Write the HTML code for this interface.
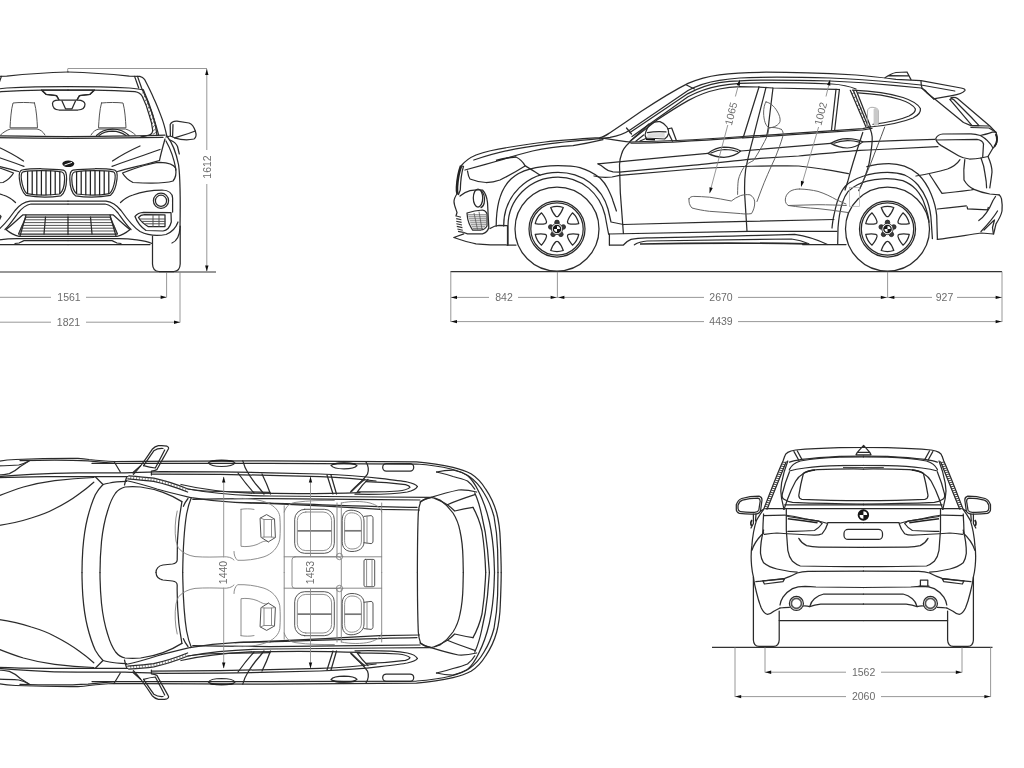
<!DOCTYPE html>
<html><head><meta charset="utf-8">
<style>
html,body{margin:0;padding:0;background:#fff;}
body{width:1024px;height:768px;overflow:hidden;font-family:"Liberation Sans",sans-serif;}
svg{display:block;position:absolute;left:0;top:0;}
.b{fill:none;stroke:#2b2b2b;stroke-width:1.25;stroke-linecap:round;stroke-linejoin:round;}
.m{fill:none;stroke:#4a4a4a;stroke-width:0.95;stroke-linecap:round;stroke-linejoin:round;}
.l{fill:none;stroke:#808080;stroke-width:0.9;stroke-linecap:round;stroke-linejoin:round;}
.s{fill:none;stroke:#5c5c5c;stroke-width:0.95;stroke-linecap:round;stroke-linejoin:round;}
.d{fill:none;stroke:#8c8c8c;stroke-width:0.9;}
.g{fill:none;stroke:#333;stroke-width:1.1;}
.a{fill:#111;stroke:none;}
text{font-family:"Liberation Sans",sans-serif;font-size:10.5px;fill:#6c6c6c;text-anchor:middle;}
</style></head><body>
<svg width="1024" height="768" viewBox="0 0 1024 768">
<rect width="1024" height="768" fill="#fff"/>
<defs>
<filter id="soft" x="0" y="0" width="1024" height="768" filterUnits="userSpaceOnUse"><feGaussianBlur stdDeviation="0.55"/></filter>
<path id="ah" d="M0,0 L-6,-1.7 L-6,1.7 Z"/>
</defs>

<g filter="url(#soft)">
<!-- ================= DIMENSIONS ================= -->
<g id="dims">
<!-- front view -->
<path class="g" d="M0,272 H216"/>
<path class="d" d="M68,68.5 H207 M206.8,69 V271"/>
<path class="d" d="M67.7,68.5 V72"/>
<use href="#ah" class="a" transform="translate(206.8,69) rotate(-90)"/>
<use href="#ah" class="a" transform="translate(206.8,271.5) rotate(90)"/>
<rect x="200" y="150" width="14" height="34" fill="#fff"/>
<text transform="translate(210.5,167) rotate(-90)">1612</text>
<path class="d" d="M166.6,272 V297.5 M0,297.3 H51 M86,297.3 H166"/>
<use href="#ah" class="a" transform="translate(166.6,297.3)"/>
<text x="69" y="301">1561</text>
<path class="d" d="M180,272 V322.5 M0,322.2 H51 M86,322.2 H180"/>
<use href="#ah" class="a" transform="translate(180,322.2)"/>
<text x="68.5" y="326">1821</text>

<!-- side view -->
<path class="g" d="M450.5,271.6 H1002"/>
<path class="d" d="M450.8,271.6 V322 M557.4,271.6 V297.5 M887.6,271.6 V297.5 M1002,271.6 V322"/>
<path class="d" d="M451,297.4 H489 M518,297.4 H557.4 M557.4,297.4 H704 M738,297.4 H887.6 M887.6,297.4 H932 M957,297.4 H1002"/>
<use href="#ah" class="a" transform="translate(451,297.4) rotate(180)"/>
<use href="#ah" class="a" transform="translate(556.6,297.4)"/>
<use href="#ah" class="a" transform="translate(558.4,297.4) rotate(180)"/>
<use href="#ah" class="a" transform="translate(886.8,297.4)"/>
<use href="#ah" class="a" transform="translate(888.4,297.4) rotate(180)"/>
<use href="#ah" class="a" transform="translate(1001.6,297.4)"/>
<text x="504" y="301">842</text>
<text x="721" y="301">2670</text>
<text x="944.5" y="301">927</text>
<path class="d" d="M451,321.6 H704 M738,321.6 H1002"/>
<use href="#ah" class="a" transform="translate(451,321.6) rotate(180)"/>
<use href="#ah" class="a" transform="translate(1001.6,321.6)"/>
<text x="721" y="325.3">4439</text>

<!-- rear view -->
<path class="g" d="M712,647.4 H992.5"/>
<path class="d" d="M765,647.4 V672.5 M962,647.4 V672.5 M735,647.4 V697 M990.6,647.4 V697"/>
<path class="d" d="M765,672.2 H846 M881,672.2 H962 M735,696.6 H846 M881,696.6 H990.6"/>
<use href="#ah" class="a" transform="translate(765.2,672.2) rotate(180)"/>
<use href="#ah" class="a" transform="translate(961.8,672.2)"/>
<use href="#ah" class="a" transform="translate(735.2,696.6) rotate(180)"/>
<use href="#ah" class="a" transform="translate(990.4,696.6)"/>
<text x="863.6" y="676">1562</text>
<text x="863.6" y="700.4">2060</text>
</g>

<!-- ================= FRONT VIEW ================= -->
<g id="front">
<g id="fhalf">
<!-- roof / A pillar / body side -->
<path class="b" d="M68,72 C95,72.6 115,74.6 129.3,76.2 L139.8,76.4 C142,77 143.5,78 144.5,79.3 C148,86 151,92 153.9,98.7 C157,105 159.5,112 162,118.6 C164,124 165.5,130 166.8,136"/>
<path class="b" d="M68,86.6 C90,86.6 110,87 129.3,88 C135,88.6 140,89.2 143.4,90"/>
<path class="b" d="M134.6,76.4 L138.7,88 M137.5,76.4 L141.6,88 C145,95 148,102 150.4,109 C154,118 156.5,127 158.6,135"/>
<path class="b" d="M143.4,90 C147,98 150,106 152.5,114 C155,122 156.4,129 157,135.5"/>
<path d="M144,91.5 L142.2,93.5 M145.4,95 L143.8,97.5 M146.8,98.6 L145.2,101.2 M148.2,102.2 L146.5,105 M149.6,105.8 L147.8,108.8 M151,109.4 L149,112.6 M152.3,113 L150.2,116.4 M153.4,116.8 L151.2,120.2 M154.4,120.6 L152,124 M155.3,124.4 L152.6,127.8 M156,128.2 L153,131.4 M156.6,132 L152.8,134.4" fill="none" stroke="#444" stroke-width="0.8"/>
<path class="b" d="M68,90 H41.5 L46,94.3 L56.5,95.6 L58.8,99.5"/>
<path class="b" d="M68,90 H94.5 L90,94.3 L79.5,95.6 L77.2,99.5"/>
<path class="b" d="M94.5,90 C108,90 122,90.6 135,91.6 C139,92.3 141,94 142.2,96.3 C145,102 147.5,108.5 149.2,115 C151,120 152.2,125.5 152.7,130.3 C152.6,133 151.5,134.5 149.2,135 C146,136 143.5,136.5 141,136.8"/>
<!-- hood rear edge -->
<path class="b" d="M68,136.6 C100,136.4 140,136 165,135.2"/>
<path class="b" d="M68,138.3 C100,138.1 140,137.8 163,137.4"/>
<!-- body side -->
<path class="b" d="M166.8,136 C171,141 176,152 178.6,165 C180.3,178 180.5,200 180,228 C179.5,236 177,241 172,243"/>
<path class="b" d="M165,139 C163,146 161,153 159.5,160.5"/>
<path class="b" d="M166,141 C170,148 174,158 176,170"/>
<!-- hood creases -->
<path class="b" d="M140,146 C130,150.5 120,156 112.5,161"/>
<path class="b" d="M160,149.5 C145,155 125,161.5 112,166.3"/>
<path class="b" d="M159.5,160.5 C148,164 130,168 117.5,171.5"/>
<!-- headlight -->
<path class="b" d="M122.5,173 C135,168 150,163 160,162.3 C168,162.5 174,165 175.5,168 C176.5,173 175.5,178 173,181 C165,183.5 150,183.5 133,182.5 C128,180 124.5,176.5 122.5,173 Z"/>
<!-- bumper upper -->
<path class="b" d="M120.5,202.5 C124,199 128,196.5 133,195 C142,191.5 152,190 162,190 C169,190.3 172.3,193 172.6,198 L172.6,212"/>
<circle class="b" cx="161" cy="200.8" r="7.6"/>
<circle class="b" cx="161" cy="200.8" r="5.6"/>
<!-- side intake -->
<path class="b" d="M135,216.5 C137,214 140,212.6 143.5,212.4 L171,212.6 L171.3,222 C170,227 167,230.5 163,231 L146,230.5 C141,227 137,222 135,216.5 Z"/>
<path class="b" d="M138.5,217.5 C140,215.6 142,214.8 144.5,214.7 L165,214.8 L165,226.5 L148,226.5 C144,224 140.5,221 138.5,217.5 Z"/>
<path class="m" d="M140,219 H165 M142.5,221.4 H165 M145.5,223.8 H165 M153,214.8 V226.5 M159,214.8 V226.5"/>
<!-- lower bumper -->
<path class="b" d="M68,201.2 H106 C112,202 117,205.5 121,210.5 C127,219 133,227 140,231.5 C148,235.5 158,236 166,234.5 C172,232 176,228 178,222"/>
<path class="b" d="M68,204 H105 C110,205 114,208 118,213 C123,220 127,226 131,229.5"/>
<!-- lower grille -->
<path class="b" d="M68,214.8 H113 C118,219 125,226 130,229.5 C126,233 121,235.5 117,236.3 H68"/>
<path class="b" d="M68,217 H110 L117.5,234 H68"/>
<path class="m" d="M68,219.8 H111.5 M68,222.6 H112.7 M68,225.4 H114 M68,228.2 H115.2 M68,231 H116.4"/>
<path class="b" d="M90.5,217 L92,234 M110,215 L116,236"/>
<path class="b" d="M68,238.6 H118 C130,238.5 145,240.5 152,243.5"/>
<path class="b" d="M68,240.6 H112 L117,243 L121,243.5"/>
<path class="b" d="M68,244.6 H150"/>
<!-- wheel -->
<path class="b" d="M152.5,236 V264 C152.7,269 155,271.4 159,271.5 H174 C178,271.3 180,269 180.2,264 V226"/>
<!-- mirror -->
<path class="b" d="M170.2,124.5 C171.5,122 174,121 177,121.2 L189,123 C192,124 194,127 195.3,131 C196.5,134.5 196.3,137.5 194,139 C188,140.3 180,139.6 174.5,137.8 L170.4,136 Z"/>
<path class="b" d="M173,124.5 L172.6,136.5 M174.5,137.8 L188.5,133.5 L195.3,131"/>
<path class="b" d="M166,137 L170.4,136 M170,140 C174,141.5 176,143 177.5,146.5 L179.3,154"/>
<!-- seat / headrest -->
<path class="m" d="M101.5,103 C108,102.3 117,102.3 123,103 C125,110 125.5,120 126,127.8 H98.5 C99,120 99.5,110 101.5,103 Z"/>
<path class="m" d="M91,135 C93,131.5 96,129.5 99,129 H125.5 C129,130 133,132.5 135.5,135"/>
</g>
<use href="#fhalf" transform="matrix(-1 0 0 1 136 0)"/>
<!-- center items -->
<path class="b" d="M96.5,135.5 C101,130.8 107,129 112.5,129 C118.5,129.2 125,131.5 129,135.5"/>
<path class="b" d="M99,135.5 C103,132.5 108,131.2 112.5,131.2 C117,131.3 122,132.8 126,135.5"/>
<path class="b" d="M68,217 V234"/>
<path class="b" d="M52.5,103.5 C52.8,101 55,100.3 58,100.2 H78 C82,100.3 84.5,101.5 85,104 C85,107.5 82.5,109.8 78,110 H59 C55,109.8 52.5,107.5 52.5,103.5 Z"/>
<path class="b" d="M62,101 L65.5,108.8 H72 L75.5,101"/>
<ellipse cx="68.3" cy="163.8" rx="6" ry="3.3" fill="#1a1a1a"/>
<path d="M64.5,165 L72,162.4" stroke="#fff" stroke-width="1"/>
<!-- kidney grilles -->
<g id="kid">
<path class="b" d="M73,170.2 C85,168.3 105,168.3 114.5,170 C117.5,171 117.6,174 117,179 C116,187 114,192.5 110.5,195.3 C100,197.3 85,197.3 75.5,195.8 C71.5,193 70,187 69.8,179 C69.7,174 70,171 73,170.2 Z"/>
<path class="b" d="M74.5,172 C86,170.3 104,170.3 113.3,171.8 C115.5,172.8 115.6,175 115,179.5 C114,186.5 112.5,191 109.5,193.6 C100,195.3 86,195.3 76.8,194 C73.5,191.5 72,186.5 71.8,179.5 C71.7,175 72,172.8 74.5,172 Z"/>
<path d="M76.6,171.6 V194 M81.2,171 V194.8 M85.8,170.6 V195.2 M90.4,170.5 V195.3 M95,170.5 V195.3 M99.6,170.6 V195.2 M104.2,170.9 V194.8 M108.8,171.3 V194" fill="none" stroke="#222" stroke-width="1.25"/>
</g>
<use href="#kid" transform="matrix(-1 0 0 1 136.4 0)"/>
</g>

<!-- ================= SIDE VIEW ================= -->
<g id="side">
<defs>
<g id="wheel">
<circle class="b" r="42"/>
<circle class="b" r="28"/>
<circle class="b" r="26.2"/>
<g id="spk"><path class="b" d="M-6.3,-21.5 C-3,-22.6 3,-22.6 6.3,-21.5 C5,-18 2.5,-14 1.2,-12.8 C0.5,-12.2 -0.5,-12.2 -1.2,-12.8 C-2.5,-14 -5,-18 -6.3,-21.5 Z"/></g>
<use href="#spk" transform="rotate(60)"/><use href="#spk" transform="rotate(120)"/><use href="#spk" transform="rotate(180)"/><use href="#spk" transform="rotate(240)"/><use href="#spk" transform="rotate(300)"/>
<g fill="#3a3a3a" stroke="#222" stroke-width="0.8"><circle cx="0" cy="-6.6" r="2.3"/><circle cx="6.28" cy="-2.04" r="2.3"/><circle cx="3.88" cy="5.34" r="2.3"/><circle cx="-3.88" cy="5.34" r="2.3"/><circle cx="-6.28" cy="-2.04" r="2.3"/></g>
<circle r="5.6" fill="#fff" stroke="#333" stroke-width="0.9"/>
<circle r="4.3" fill="#161616"/>
<path d="M0,-3 A3,3 0 0 1 3,0 H0 Z M0,3 A3,3 0 0 1 -3,0 H0 Z" fill="#fff"/>
</g>
</defs>
<use href="#wheel" transform="translate(557,229)"/>
<use href="#wheel" transform="translate(887.5,229)"/>

<!-- front wheel arches -->
<path class="b" d="M496.2,226 C496.2,181 515,165.8 558,165.6 C568,165.6 575,166.2 580,167.6 C588,170 595,174 600,178 C604,182 606,185 607.5,188 C610,193 612,197 613,201 L616.4,211"/>
<path class="b" d="M503.7,226 C503.5,196 527,172.3 558,172.3 C582,172.3 602,187 608,209 L611,222 L623.4,224.5"/>
<path class="b" d="M508,245 V226 C508,200 529,177 558,177 C582,177 600,194 605,215 L607.8,230 L608.6,234 M609.4,234 V245"/>
<!-- rear wheel arches -->
<path class="b" d="M866.9,166.7 C874,164.6 882,163.7 889,163.7 C900,163.7 910,167.5 918,174 C924,180 928,186.5 931,193.8 C934,201 936,208 936.7,215.6 L937.4,239.4"/>
<path class="b" d="M832,228 C832.5,223 833,219 834,215 C835,210 836,206 837.2,201.9 C839,196.5 841,192 843.4,188.6 C846,185 849,182.5 852.8,180.8 C856,178.8 860,177.2 863.8,176 C867,174.8 871,174 874.7,173.4 C879,172.7 883,172.4 887.5,172.4 C894,172.4 900,173.4 905,175.2 C910,177.5 914.5,181 918,185 C922,190 925,195 927,200.3 C929.5,207 931,215 931.3,222.2 L932.4,238.6"/>
<path class="b" d="M837.7,243.8 L838,228 C838.4,223 838.8,219 839.5,215 C840.3,210 841.3,206 842.7,201.9 C844,198 845.8,194.6 848,191.7 C850.6,188.8 853.8,186.5 857.5,184.7 C860.5,183.2 863.5,182 866.9,181.2 C872,179.8 877,179 882.5,178.8 C888,178.5 895,178.8 902.8,180.6 C908,182.6 912.5,185.6 916,189.4 C920,194 923,199 924.7,204.7 C927,211 928.5,217 929,222.2"/>

<!-- hood + windshield + roof outer -->
<path class="b" d="M461,166 C465,161 470,157.5 476,155 C487,151 497,149 507.5,147.5 C520,145.5 533,143.5 545,142 C560,140.2 585,138.5 600,137.6 C604,137 607,134.7 610,132.7 C620,126 631,118.3 641,111.6 C657,101 672,91.5 688,83.4 C698,79 708,76.3 719.4,74.8 C735,72.8 750,72.3 766,72.2 C790,72.2 830,73.6 856,75 C870,76 884,77.8 896,79.4 L921,80.6 L961,88 C964,88.6 965.5,89.4 964.8,90.6 C963,93 958,94.5 952,95.6 L933.5,98.8"/>
<path class="b" d="M473.8,160 C485,156.3 496,153 507.5,150.6 C520,148 533,146 545,144.4 C555,143 565,142 573,141.2 C583,140.2 592,139.2 600,138.6"/>
<!-- roof inner lines -->
<path class="b" d="M600,139 C606,138 608,137.5 610,137.3 C618,136 624,134 630,130 L688,90.5 C698,85 708,82 719.4,80.3 C726,79.2 733,78.4 739.7,78 C755,77.2 790,77 830,78 C855,79 880,81 896,82.5 L921,85 L954.8,91"/>
<path class="b" d="M630,132.6 L688,93.6 C698,88.2 708,84.6 719.4,82.6 C726,81.6 733,81 739.7,80.8 C755,80 790,80 830,81 C855,82 880,84 896,85.6 L921,88 C924,89.2 925.8,90.8 927,92.5 L933.5,98.8"/>
<path class="b" d="M632,136.5 L688,96.7 C698,91.4 708,87.8 719.4,85.8 C726,84.6 733,83.8 739.7,83.4 C755,82.6 800,82.8 832,84 C842,84.6 850,86.5 856,89"/>
<path class="b" d="M686.5,85 L694.4,89"/>
<path class="b" d="M626.5,128 L631.5,134"/>
<!-- front window -->
<path class="b" d="M630,141.3 L657,120 C668,112.6 678,106.3 688,100.6 C698,95 708,91.4 719.4,89 C726,87.6 733,86.8 739.7,86.6 L759,87"/>
<path class="b" d="M759,87 L743.3,137.2"/>
<path class="b" d="M630,142 C645,141.6 660,141.2 677,140.5 C700,139.4 722,138 742.8,136.5"/>
<path class="b" d="M631,143.2 C650,142.8 665,142.4 677,141.8 C700,140.7 722,139.2 742.8,137.7"/>
<!-- rear window -->
<path class="b" d="M766,87.4 C763,100 757,122 753.4,137.2 C750,150 747,162 745.6,170 C744.6,178 744.4,186 744.7,195 L747,231.3"/>
<path class="b" d="M773,88 C771.5,100 769.5,116 768.3,127.8 L766.7,136.4"/>
<path class="b" d="M759,87 L773,88 L836,89.3 L839.4,89.5"/>
<path class="b" d="M836,89.3 L831.5,130 M839.4,89.5 L834.7,129.8"/>
<path class="b" d="M742.8,136.5 C760,135.6 775,134.6 792.5,133.3 C815,131.8 840,130 862.8,128.6 L870,127"/>
<path class="b" d="M742.8,137.9 C760,137 775,136 792.5,134.7 C815,133.2 840,131.4 862.8,130 L872,128.4"/>
<path class="b" d="M850.3,90.3 L866,127 M853.4,90.6 L868.4,127 M856.5,91 L870.6,127"/>
<path d="M852,94 L854.2,92.6 M853.6,98 L856.6,96 M855.3,102 L858.3,100 M857,106 L860,104 M858.7,110 L861.6,108 M860.4,114 L863.2,112 M862.1,118 L864.8,116 M863.8,122 L866.4,120 M865.4,126 L868,124" fill="none" stroke="#333" stroke-width="0.8"/>
<!-- quarter window -->
<path class="b" d="M852.5,90.2 C870,91 890,93.5 903,97.5 C912,100.5 918,104 920.4,108.5 C921,112 918,115.5 913,118 C902,122.5 886,125.5 870,127"/>
<path class="b" d="M858,92.8 C872,93.5 889,96 900,99.5 C908,102 913.5,105.5 915.4,109 C915.6,111.5 913,114 909,116 C900,120 886,122.8 873,124.3"/>
<!-- D pillar / tailgate -->
<path class="b" d="M921,81 C921,84 921.5,86.5 922,88 C926,92.5 931,96.5 936,100 L963.5,122.5 L971,125.6"/>
<path class="b" d="M951,97.5 C954,97 956,97.3 957.5,98.5 L989.8,126 L996,132.5"/>
<path class="b" d="M949.8,99.4 C951,98.5 952.5,98.6 953.8,99.8 L971.5,117.5 L979,125.6 L972,125.6 Z"/>
<path class="b" d="M971,125.6 L988.5,126 M971,127.5 L989,128 L996,132.2"/>
<!-- shark fin -->
<path class="b" d="M885,77.8 C889,75 893,73 896,72.5 L907,72 L911,79.6 M888,75.6 L909,75.8"/>
<!-- taillight -->
<path class="b" d="M935.8,138.6 C937,135.5 939.5,134.2 943,134 L971,133.8 C975,134 978,134.8 980.4,135.5 C985,134.8 989.5,133.2 993,132 L996,132.5 C997.5,136 997.5,141 996,144.5 C995,146.5 994,147.5 993,148 L988,156.5 L981,158 C977,158.8 973,159 969.4,159 C965,158.5 961,157.3 958.5,155.8 L941.3,145.6 C938,143.5 936,141 935.8,138.6 Z"/>
<path class="b" d="M936.6,140 L977,139.4 C981,140 983,141.8 983.5,144 L982.7,157.3"/>
<path class="b" d="M980.4,135.5 C985,138 990,142.5 993,148"/>
<path d="M995.6,134 C997.6,137.5 997.4,142.5 994.2,146.8" fill="none" stroke="#222" stroke-width="1.8"/>
<!-- tailgate lower -->
<path class="b" d="M964.8,159.7 C963.8,166 963.6,174 964,180 C966.5,184.5 970,187.5 974,189.4 C979,191.6 984,193 989.8,194 L999,194.8"/>
<path class="b" d="M981,158 C983,163 984.5,168 985,173.8 C986,179 986.6,184 986.6,187.8"/>
<path class="b" d="M988,156.5 C990,161 992,166 992,172 C991.5,177 990.5,183 989.8,187.8"/>
<!-- rear bumper -->
<path class="b" d="M999,194.8 C1000.5,196 1001.3,197.5 1001.5,198.8 C1002.3,203 1002.3,207 1002,211 C1001,216 998.5,220 996,223.8 L993.6,234 L981,233 C967,235 952,237.5 937.4,239.4"/>
<path class="b" d="M937.4,209 C947,208 957,206.8 966.3,205.8"/>
<path d="M967,206.4 L967.6,208.8 L987.6,209.8 L988.4,207" fill="none" stroke="#222" stroke-width="1.2"/>
<path class="b" d="M978.8,220.6 C984,217 989,210 993,200.5 L995.5,196.5"/>
<path class="b" d="M981,231.5 C988,224 994,217 997.5,211"/>
<path class="b" d="M984,230 C988,226 991.5,222.5 994.5,220 L992.5,227.5 L993.4,233.8"/>
<!-- rear fender crease -->
<path class="b" d="M916,176 C928,174 939,171.5 947.5,169 C953,167 957.5,163.5 960,159.7"/>
<path class="b" d="M929.6,174.5 C934,181 938,187.5 942,193.3 C952,192.5 962,191.2 971,190 L974,189.4"/>

<!-- front face -->
<path d="M461,166 C458.8,172 457.4,180 457,187 C456.8,190 457,192.5 457.6,194.5" fill="none" stroke="#222" stroke-width="2.6"/>
<path class="b" d="M461,166 L463.5,166.3 C461.5,173 460.5,182 460.3,190 L458.5,194.5"/>
<path class="b" d="M457.5,193 C455.5,196 454,199 454,201.5 C454,205 456,209 457,212.5 L456,216"/>
<path d="M456.4,216 L461,217.2 M456.2,218.6 L461.4,219.8 M456.2,221.2 L461.6,222.4 M456.4,223.8 L462,225 M456.8,226.4 L462.4,227.6 M457.4,229 L462.8,230.2 M458,231.4 L463.4,232.4" fill="none" stroke="#333" stroke-width="1.1"/>
<path class="b" d="M463.8,233.8 L453.8,237.5 C461,240 469,242.5 476,243.8 C487,244.8 498,245 507.5,245 H516"/>
<path class="b" d="M507.5,225.6 V245 M490,228.5 C493,226.5 496,225.4 499,225.3 L507.5,225.6"/>
<!-- fog surround -->
<path class="b" d="M460,196 C463,193.5 466.5,191.5 470,190.6 C474,189.8 479,189.6 482.5,190 C485.5,193 487,198 487.5,202.5 L488.8,227.5 C488,231 485.5,233 482.5,233.8 H467.5 L463.8,232.5"/>
<ellipse class="b" cx="478" cy="198" rx="4.7" ry="9"/>
<path class="b" d="M481,190.5 C484,193 485,198 484.2,203 C483.6,205.5 482.5,207 481,207.6"/>
<path class="b" d="M467,213 C472,211.5 478,210.4 482.5,210 C485,210.5 486.5,212 487,213.8 V226 C485.5,228.5 483.5,229.8 481,230 H472.5 C470,226 468,221.5 467.5,217.5 Z"/>
<path d="M468,214.8 H486 M468.4,216.8 H486 M469,218.8 H486 M469.6,220.8 H486 M470.2,222.8 H486 M471,224.8 H486 M471.8,226.8 H485 M472.6,228.6 H483 M474,213 L477.5,229.5 M479,211.5 L482,229.5" fill="none" stroke="#555" stroke-width="0.8"/>
<!-- headlight -->
<path class="b" d="M465,170 C475,167.3 487,164 497.5,161 C510,157 522,153.6 532.5,151 C546,147.8 560,146.3 573,145.6 C583,144 593,142 603,139.6"/>
<path d="M496,160.6 C503,158.6 510,157.2 516,157" fill="none" stroke="#222" stroke-width="1.6"/>
<path class="b" d="M467.5,171 C468,174.5 469,177.5 470,179 C475,181 481,182.3 486,182.5 C491,182.5 496,181.5 500,180 C509,175.5 518,170.5 525,166"/>
<path class="b" d="M516,157 C520,159 523,162 525,165.6 C530,168.5 536,172.5 540,175"/>
<!-- front door / fender -->
<path class="b" d="M630,142 C625,146.5 622.5,150 621.7,153.8 C620,158 619.5,161 619.5,165 L620.3,192.5 L623.4,233.5"/>
<path class="b" d="M600,137.6 C612,139.5 622,141.2 630,142"/>
<path class="b" d="M598,163.8 C625,161.2 650,158.8 672.5,156.7 C686,155.4 698,154.3 707.8,153.4"/>
<path class="b" d="M598,163.8 C601,164.8 603,166.7 605,168.5 C607,170.4 609.4,171.4 613,171.9 L619.5,172.2 L693.8,165.2 C715,163 738,160.4 760,158.4 C775,157.4 788,156.6 798.6,156 C820,154 842,151.6 860,150.3 C867,149.9 873,149.7 879.3,149.5 C900,148.6 920,147.6 937.9,146.6"/>
<path class="b" d="M594,176 C600,177.6 606,177.8 612,177 L619.5,175.3 L693.8,169 C715,167.6 738,166.6 760,166 C775,166 788,165.8 798.6,166 C807,166.8 815,167.8 822,169 C832,170.6 841,172 848.4,173.6"/>
<path class="b" d="M740.6,151 C770,148.6 800,146 830.8,143.4 M862.8,141.9 C885,141 912,140 935,139.3"/>
<!-- handles -->
<path class="b" d="M707.8,153.4 C713,149.6 719,147.5 724,147.2 C730,147.2 736.5,148.6 740.6,151 C736.5,155 730,157 724,157.3 C718.5,157.2 712.5,155.8 707.8,153.4 Z"/>
<path class="b" d="M711,153 C716,150.6 720.5,149.6 724.5,149.5 C729.5,149.6 734,150.3 737.5,151.5"/>
<path class="b" d="M830.8,143.4 C836,140.2 842,138.8 847.2,138.7 C853,138.8 859,140 862.8,141.9 C858.5,145.6 853,147.7 847.2,148 C841.5,147.8 835.5,146 830.8,143.4 Z"/>
<path class="b" d="M834,143.2 C839,141 843.5,140.5 847.5,140.5 C852,140.6 856,141.2 859.5,142.2"/>
<!-- sill / door bottom -->
<path class="b" d="M623.4,224.5 C660,223.6 705,222.4 747,221.4 C780,220.6 810,220 833.8,219.5"/>
<path class="b" d="M608.6,234 C660,233 705,232.2 748.5,231.4 C780,231.2 810,231.2 837,231.25"/>
<path class="b" d="M609.4,245 H623.4 C626,242 628.5,240.4 631,239.4 C636,238.2 641,237.9 647,237.8 C700,236.6 750,236 794.7,234.4 C806,236 818,240 827.5,244.5"/>
<path class="b" d="M634.4,244.8 C638,242.4 642,241.3 647,241 C700,240 750,239.4 791.5,239 C798,239.8 804,241.6 808.8,243.8"/>
<path d="M640,244 C690,243 750,242.8 807,243.8" fill="none" stroke="#2a2a2a" stroke-width="1.7"/>
<path class="b" d="M802.5,244.5 H846"/>
<!-- rear door cut -->
<path class="b" d="M869,127 C871.5,131 872.4,135.5 872.2,140.3 C871.8,148 870.5,156 869,163.8 C867,172 863.5,181.3 858.8,190.6"/>
<path class="b" d="M862.8,132.5 C858,147 852.5,163 847.8,181.3 L845,190"/>
<path class="m" d="M884.7,127 C880,140 875,152 870.6,163.8 C866,175 862,184 858.8,190.6"/>
<!-- body creases rear -->

<!-- mirror -->
<path class="b" d="M645,135 C646,130 648,126.5 650.6,124 C653.5,122 657,121.4 660,121.7 C663,122.8 665.5,124.8 667,127 C668.3,129 668.8,131.5 668.6,133.4 C668,136 666.5,138 664.7,139 L646,138 Z"/>
<path class="b" d="M647.5,132.6 C653,131.6 660,131.4 666,131.9"/>
<path d="M648,133.5 L664.5,133 L665,137.8 L647,137 Z" fill="#ddd" stroke="none"/>
<path class="b" d="M667.8,128.8 L671.7,128 L676.4,140.5 M668.6,133.4 L672.5,141.2"/>
<path class="b" d="M635.8,141.2 L643.6,135 M640,141 L646.5,138.2 M631,140.5 L649,124"/>
<path d="M646,139.2 L655,139.8" stroke="#111" stroke-width="1.6" fill="none"/>
<!-- seats (light) -->
<path class="s" d="M689,198.8 C690,197 691.5,196.5 693.8,196.4 C699,196.4 704,196.8 709.4,197.2 C717,198.2 724,199.6 731.3,201 C734,199 737,197 740.6,195.6 C744,194.6 747,194.4 750,194.8 C753,196.5 754.5,199 754.7,201.9 C755,206 753.5,210.5 751.5,213.6 C748,214.2 744,214 740.6,213.6 C730,212.8 720,212 709.4,211.3 C703,210.5 697,209.4 692,208 C689.5,205.5 688.6,202 689,198.8 Z"/>
<path class="s" d="M737.6,194.4 C737.6,189 737.8,184 738.3,180 C739.5,175 741.5,171 743.8,167.5 C747,163.5 750.5,162 753.4,160.6 C759,152 764,143 767.5,135.6 L769,127.8"/>
<path class="s" d="M781.5,129.4 C783,131 783.4,133 783,135.6 C781,143 778,150.5 775.3,157.5 C770,169 765,180 761.3,190 L757,201.5"/>
<path class="s" d="M766,102 C770,102.5 774,106 777,111 C779.5,115 780.5,118.5 780,121.5 C779,125 774,127.6 769,127.8 C765.5,126 763.8,120 763.6,113 C763.6,108 764.5,104 766,102 Z"/>
<path class="s" d="M769,127.8 C773,127 777,127.6 781.5,129.4"/>
<path class="s" d="M799.4,189 C796,189 792.5,189.8 790,191.4 C787,193.5 785.3,196.5 785.3,200 C785.4,202.5 786.4,204.5 788.4,205.5 C798,205.2 808,204.9 818,204.7 C828,204.8 838,205.1 846.3,205.5"/>
<path class="s" d="M799.4,189 C806,189.2 812,190 818,191.4 C825,193.6 831,196.6 836.9,200 L846,204"/>
<path class="s" d="M788.4,205.5 C798,207 808,208 818,208.6 C828,209.6 838,211 847.8,212.5"/>
<rect x="849.4" y="187.5" width="10" height="18.8" fill="none" stroke="#aaa" stroke-width="0.7"/>
<path d="M867.5,126 V111 C867.8,108.5 869.5,107.4 872,107.3 C875.5,107.3 878,108.4 878.4,111 V126" fill="none" stroke="#999" stroke-width="0.8"/>
<rect x="873.6" y="108" width="4.6" height="18" rx="1.5" fill="#c9c9c9"/>
<!-- seat dims -->
<path class="d" d="M739.7,80.3 L735.4,96.5 M727.8,125 L709.8,192.6"/>
<use href="#ah" class="a" transform="translate(739.9,79.6) rotate(-75)"/>
<use href="#ah" class="a" transform="translate(709.6,193.4) rotate(105)"/>
<text transform="translate(734.6,114.6) rotate(-75.5)">1065</text>
<path class="d" d="M830,80 L826,96.5 M818.6,127 L801.4,186"/>
<use href="#ah" class="a" transform="translate(830.2,79.4) rotate(-75)"/>
<use href="#ah" class="a" transform="translate(801,187) rotate(105)"/>
<text transform="translate(824.2,114.6) rotate(-75.5)">1002</text>
</g>

<!--SIDE_END-->
<!-- ================= TOP VIEW ================= -->
<g id="top">
<g id="thalf">
<!-- outer body -->
<path class="b" d="M-2,461.3 C5,460.2 10,459.7 15.6,459.5 C35,458.7 60,458.3 78,458.4 C83,458.6 86,459 89,459.5 C98,460.6 106,461.3 114,461.5 L140.6,461.3 L270,460.8 L416.5,461.9 C430,463 442,464.8 453,467.3 C460,469 466,471 471,473.7 C477,477.5 482,483 485.7,489.2 C491,497 494.5,505 496.7,513 C499,522 500,531 500.3,540.3 C500.8,552 501.2,562 501.2,572.5"/>
<path class="b" d="M20,460.6 C45,459.9 70,459.8 88,460.9 L114,463.3 H270 L416.5,464 C430,465 441,466.6 451,469 C458,470.8 464,473 469.3,476.5 C475,480.5 480,486 484,493 C489,501 492,509 494,516.5 C496,527 497.2,538 497.6,549.4 L498,572.5"/>
<path class="b" d="M92,463.4 H114"/>
<!-- headlight -->
<path class="b" d="M-2,465.8 C6,465.6 12,465.4 18.8,465 C23,464 26,462.6 29,461"/>
<path class="b" d="M-2,475 C3,474.8 6,474.4 9.4,473.6 C13.5,472 17,469.5 20.3,466.5 L29,461"/>
<!-- shoulder lines -->
<path class="b" d="M-2,476.7 C10,475.6 20,474.9 31,474.4 C47,473.4 62,472.9 78,472.8 H125 C135,472.6 148,472.1 160,471.6 L220,471.8 C250,472.2 290,473.2 320,474 C345,475 365,476.6 380,478.4 C392,479.8 402,481 407.3,482 C412,483 416,484.6 417.4,486.5"/>
<path class="b" d="M152,474 L220,474.4 C250,474.8 290,475.8 320,476.6 C345,477.6 362,479.2 376,481"/>
<path class="b" d="M-2,477.7 C15,477 30,476.8 47,476.7 H95.3 L128,476.7"/>
<!-- hood creases -->
<path class="b" d="M-2,496.2 C7,492.6 15,489.6 23.4,487 C34,484 44,482 54.7,480.6 C68,479 81,478 93.8,477.5"/>
<path class="b" d="M-2,525.6 C10,523.8 21,521.4 31.3,518 C40,515.4 48,512.5 54.7,508.8 C63,504.5 71,500 78,494.7 C84,490.5 89,486.5 93.8,482.2"/>
<path class="b" d="M95.3,476.7 L103,484.5"/>
<!-- cowl outer -->
<path class="b" d="M126.5,481.4 C120,481.6 114,482 109.4,483 C107,483.4 105,483.8 103,484.5 C100,487.5 97.5,490.8 95.3,494.7 C92,502 89.5,510 87.5,518 C85,528 83.6,539 82.8,549.4 C82.3,557 82,565 82,572.5"/>
<!-- glass front -->
<path class="b" d="M181.9,501.6 C176,497.8 170,495 163,492.4 C156,489.8 148,488 140.6,487 C135,486.6 130,486.6 125,487 C121,488 118,490 115.6,493 C112,498 109.6,504 107.8,510.3 C104.5,520.5 102.6,531 101.5,541.5 C100.5,552 100,562 100,572.5"/>
<!-- A pillar band -->
<path class="b" d="M128.8,475.8 C137,476.4 146,477.2 153.8,478.2 C166,480.8 177,484.6 188,489 C198,490.6 209,491.3 219.4,491.5 L270,492.3"/>
<path class="b" d="M125.6,480.5 C136,482.6 147,485.8 156.9,489 C169,492.4 180,495 191.3,497.7 C205,500 220,501.6 235,502.4 L270,503.2"/>
<path class="b" d="M126.5,477.5 L125.6,480.5 L124.5,485"/>
<path d="M131.0,476.0 l-0.5,3.2 M133.9,476.3 l-0.5,3.2 M136.8,476.5 l-0.5,3.2 M139.7,476.8 l-0.5,3.2 M142.6,477.1 l-0.5,3.2 M145.5,477.4 l-0.5,3.2 M148.4,477.6 l-0.5,3.2 M151.3,477.9 l-0.5,3.2 M154.2,478.3 l-0.5,3.2 M157.1,478.9 l-0.5,3.2 M159.9,479.5 l-0.5,3.2 M162.8,480.1 l-0.5,3.2 M165.7,480.7 l-0.5,3.2 M168.6,481.7 l-0.5,3.2 M171.5,482.7 l-0.5,3.2 M174.4,483.7 l-0.5,3.2 M177.3,484.7 l-0.5,3.2 M180.2,485.9 l-0.5,3.2 M183.1,487.0 l-0.5,3.2 M186.0,488.2 l-0.5,3.2" fill="none" stroke="#555" stroke-width="0.7"/>
<path class="b" d="M127.8,478.8 C137,479.6 146,480.4 153.6,481.4 C166,484 177,487.8 187.6,492"/>
<!-- roof edge lines -->
<path class="b" d="M192.8,499.3 C215,498.8 240,498.6 270,498.5 L380,499.6 L420,500"/>
<path class="b" d="M188,489 C215,494 245,495.8 270,496 L380,497 L431,497.4"/>
<path class="b" d="M235,502.4 C280,503.8 340,507 380,509.3 L419.2,510"/>
<path class="b" d="M270,503.2 C320,504.6 370,506.6 417,507.4"/>
<!-- windshield rear edge with mirror notch -->
<path class="b" d="M181.9,501.6 C181,508 179.6,515 178.8,522 C177.5,535 177,548 177.2,560 C177,562.5 175.6,563.6 172.5,564 L163,565 C158.5,565.8 156.2,568.5 156,572.5"/>
<path class="b" d="M191.3,497.7 C189,503 187.6,508.5 186.6,514 C184,530 183,550 182.7,572.5"/>
<path class="b" d="M188,498.5 C186,501 184.5,503.5 183.4,506.3"/>
<!-- mirror -->
<path class="b" d="M133.4,474.3 C136,471.5 138.8,468.4 141.3,465 C145,460 148.7,454.6 152.2,449.3 C154,447.4 156,446.2 158.4,445.7 C161,445.4 164.5,445.5 167,446.2 C168.4,446.8 168.9,447.5 168.6,448.5 C166.5,452.6 164,456.8 161.6,461 C160,464 158.4,467 156.9,469.6 C155,470.6 153.2,471 151.4,471.2 V475"/>
<path class="b" d="M143.6,465.7 C147,460.5 150.5,455.5 153.8,450.8 C156.5,449 160,448.3 163,448.5"/>
<path class="b" d="M143.6,465.7 C147.5,466.8 151.5,467.6 155.3,468 C158.5,462 161.7,456 164.7,450"/>
<path class="b" d="M114,461.5 L120.3,472 M132.8,472.8 L140.6,465.8"/>
<!-- door handles -->
<path class="b" d="M208.4,463 C210,461 214,460.3 221.5,460.2 C229,460.3 233.5,461 235,463 C233.5,465.6 229,466.4 221.5,466.5 C214,466.4 210,465.6 208.4,463 Z"/>
<path d="M210,461.6 C215,460.4 228,460.4 233.6,461.6" fill="none" stroke="#222" stroke-width="1.5"/>
<path class="b" d="M331,465.5 C333,463.4 337,462.8 344,462.8 C351,462.9 355,463.6 357,465.6 C355,468.2 351,468.8 344,468.9 C337,468.8 333,468.2 331,465.5 Z"/>
<path d="M333,464 C338,462.9 350,462.9 355.4,464.1" fill="none" stroke="#222" stroke-width="1.5"/>
<rect class="b" x="382.7" y="463.7" width="31" height="7.3" rx="3.6"/>
<!-- door cut lines -->
<path class="b" d="M242.8,460.8 C244,465 245.5,469 247.5,472 C251,478 255.5,484 260,489 L264,494"/>
<path class="b" d="M238,473 C243,480 249,487.5 254,493"/>
<path class="b" d="M262,474 C265,480 268,487 270.5,494"/>
<path class="b" d="M366,462 C368.5,466 369,470 367.5,474 M367.5,474 C363,480 357,486 350.6,492"/>
<path class="b" d="M357,492.3 C360,488 364,483 368,479.4"/>
<path d="M351,491.6 C355,487.5 360,482.5 365,479" fill="none" stroke="#333" stroke-width="1.6"/>
<path class="b" d="M327,475 L333,494 M331,475 L336.5,494"/>
<!-- side glass lens front & rear -->
<path class="b" d="M181,484.5 C200,489 225,492 250,493.2 C290,494 330,493.8 360,492.6"/>
<path class="b" d="M417.4,486.5 C416,489 412,491 407.3,492 C395,494.2 375,494.6 355,494.2"/>
<path class="b" d="M366,481.6 C380,482 393,483 405.5,484.7 C408,485.4 409.6,486.3 410,487.4 C408,489.2 404,490.4 398.2,491 C386,492 372,492.2 358,491.8"/>
<!-- rear body lines -->
<path class="b" d="M436.5,472 C442,470.6 448,470 453,470 C458,471 463,472.8 467.5,475.5 C472,479.5 475.5,485 478.4,491 C483.5,501 487,511.5 489.4,522 C492,534 493.4,546 494,558.5 L494.5,572.5"/>
<path class="b" d="M436.5,472 C442,473.2 448,474.8 453,476.5 C458,477.7 463,479 467.5,481 C470.5,483.3 473,486 474.8,489.2"/>
<path class="b" d="M474.8,492.9 C478,500 480.3,508 482,516.5 C484.6,527 486.4,538 487.5,549.4 L489.4,572.5"/>
<path class="b" d="M473,507.4 C477,514.5 480,522.5 482,531 C484,544 485.2,558 485.7,572.5"/>
<!-- spoiler / rear glass -->
<path class="b" d="M420,502 C423,500 427,498.4 431,497.4 C440,494.6 449,492 458.4,490 C465,489.6 471,490.6 476.6,492"/>
<path class="b" d="M434.7,498.3 C439,500 443.5,502.3 447.4,504.7 C456,501 466,497.6 474.8,494.7"/>
<path class="b" d="M447.4,504.7 C450,506.6 452.5,508.8 454.7,511 C461,509.5 467,508.3 473,507.4"/>
<path class="b" d="M431,497.4 C434.5,498 437.5,499 440,500 C445,503.5 449.5,508 453,513 C456.5,518.5 458.8,524.5 460,531 C462,540 462.8,549 463,558.5 L463.3,572.5"/>
<path class="b" d="M431,497.6 C427,498 423,499.5 420.6,502 C419.3,505 418.6,509 418.3,513 C417.6,530 417.4,550 417.4,572.5"/>
</g>
<use href="#thalf" transform="matrix(1 0 0 -1 0 1145)"/>

<!-- interior (light) -->
<g id="tint">
<path class="l" d="M284.2,505.8 V572.5 M337,503 V556 M341.3,503 V556 M381.7,503 V572.5"/>
<path class="l" d="M284.2,556.8 H381.7"/>
<!-- front seat -->
<path class="l" d="M234,498.8 C245,497.6 258,499 268,503 C275,506.5 279,511 279.8,516.4 C280.4,524 280.4,532 279.8,539.2 C278,548 272,554 264,556.8 C255,559.6 246,560.6 237.6,560.3 C235,558 234,555 234,551.5"/>
<path class="l" d="M241,509.3 C245,508.6 250,508.6 254,509.4 M241,509.3 V546.3 C246,547 252,546.4 257,544.5 C262,542 266,539.5 268.3,541.9"/>
<path class="m" d="M260.4,518 L266.6,514.6 L274.5,519 L275.4,537.5 L268.3,541.9 L261.3,537.5 Z"/>
<path class="l" d="M264,519.5 V537 M271.5,519.5 V537 M260.4,518 L264,519.5 L271.5,519.5 L274.5,519 M261.3,537.5 L264,537 L271.5,537 L275.4,537.5"/>
<!-- dash curve -->
<path class="l" d="M177.2,511 C175,520 174.5,532 176,541 C177,545 178,547.5 178.8,548.5 C183,553 188,555.5 195,556.6 C205,557.4 215,557 223.5,556.8"/>
<path class="l" d="M223.5,556.8 C228,556.5 232,557.5 234,560"/>
<!-- rear seats -->
<path class="l" d="M284.2,512 C286,506 290,503 296,502.3 C308,500.5 322,500.3 334.3,500.5 M341.3,503 C350,501 362,501 370,503 C377,505 381,508 381.7,512"/>
<rect class="m" x="294.7" y="509.3" width="39.6" height="44" rx="10"/>
<rect class="l" x="297.3" y="512" width="34.3" height="38.6" rx="8.5"/>
<path d="M297.5,530.8 H331.5" stroke="#777" stroke-width="1.7" fill="none"/>
<path class="m" d="M342.2,520 C342.2,514 345,510.2 351,510.2 C358,510.2 364,514 364,521 V542 C364,548 359,551.5 352,551.5 C346,551.5 342.2,548 342.2,542 Z"/>
<path class="l" d="M344.6,521 C344.6,516 347,512.8 351.5,512.8 C357,512.8 361.4,516 361.4,522 V541 C361.4,546 357.5,549 352,549 C347.5,549 344.6,546 344.6,541 Z"/>
<path d="M344.6,530.8 H361.4" stroke="#777" stroke-width="1.7" fill="none"/>
<path class="m" d="M364,516.4 L371,515.6 C372.6,516 373,517 373,518.5 V541 C373,542.6 372.4,543.4 371,543.6 L364,542.7"/>
<path class="l" d="M367,516 V543.2"/>
</g>
<use href="#tint" transform="matrix(1 0 0 -1 0 1145)"/>
<!-- center console etc -->
<rect class="l" x="292" y="556.8" width="49.3" height="31.6" rx="3"/>
<rect class="m" x="364" y="559.4" width="10.7" height="27.3" rx="1.5"/>
<path class="l" d="M366.6,560 V586 M372,560 V586"/>
<circle class="l" cx="339.5" cy="556.5" r="3.2"/><circle class="l" cx="339.5" cy="588.5" r="3.2"/>
<!-- dims -->
<path class="d" d="M223.7,477 V556 M223.7,589 V668"/>
<use href="#ah" class="a" transform="translate(223.7,476.4) rotate(-90)"/>
<use href="#ah" class="a" transform="translate(223.7,668.6) rotate(90)"/>
<text transform="translate(227.3,572.5) rotate(-90)">1440</text>
<path class="d" d="M310.5,477 V556 M310.5,589 V668"/>
<use href="#ah" class="a" transform="translate(310.5,476.4) rotate(-90)"/>
<use href="#ah" class="a" transform="translate(310.5,668.6) rotate(90)"/>
<text transform="translate(314.1,572.5) rotate(-90)">1453</text>
</g>

<!--TOP_END-->
<!-- ================= REAR VIEW ================= -->
<g id="rear">
<g id="rhalf">
<!-- roof -->
<path class="b" d="M863.4,447.5 C855,447.5 847,447.6 839.4,447.7 C824,448.2 808,449 795.6,450 C792,450.6 789.5,451.4 787.8,452.4 C786,453.5 785,454.8 784.7,456.3 L783,461 C778,472 773.5,484 769,495.4 L763.6,509.4"/>
<path class="b" d="M863.4,456 C855,456 847,456.1 839.4,456.3 C826,457 813,458 801.9,459.4 C797,460.2 793,461 789.5,462.2"/>
<path class="b" d="M794,451.6 L798.8,460.2 M797.2,450.8 L801.9,459.4"/>
<path class="b" d="M787.8,461 C785,468 783,475.5 781.6,482.9 C780.6,488 780.5,493 781.6,498.5 L784,509.4"/>
<path d="M782.6,462.0 l3,0.6 M781.8,464.0 l3,0.6 M781.0,466.0 l3,0.6 M780.2,468.1 l3,0.6 M779.4,470.1 l3,0.6 M778.6,472.1 l3,0.6 M777.7,474.1 l3,0.6 M776.9,476.1 l3,0.6 M776.1,478.1 l3,0.6 M775.3,480.2 l3,0.6 M774.5,482.2 l3,0.6 M773.7,484.2 l3,0.6 M772.9,486.2 l3,0.6 M772.1,488.2 l3,0.6 M771.3,490.2 l3,0.6 M770.5,492.3 l3,0.6 M769.7,494.3 l3,0.6 M768.9,496.3 l3,0.6 M768.0,498.3 l3,0.6 M767.2,500.3 l3,0.6 M766.4,502.3 l3,0.6 M765.6,504.4 l3,0.6 M764.8,506.4 l3,0.6 M764.0,508.4 l3,0.6" fill="none" stroke="#333" stroke-width="0.9"/>
<path class="b" d="M786.2,461.8 L767.2,509"/>
<!-- spoiler -->
<path class="b" d="M789.4,469.6 C791,466 795,462.6 800.3,461 C813,458.8 826,457.6 839.4,457.2 L863.4,457"/>
<path class="b" d="M789.4,471 C794,469.6 799,468.7 805,468 C816,466.6 828,466 839.4,465.7 L863.4,465.5"/>
<path d="M841.7,465.4 H863.4 M843,467.6 H863.4" fill="none" stroke="#333" stroke-width="1"/>
<!-- tailgate frame -->
<path class="b" d="M789.4,472 C786.5,479 784,486.5 782.3,493.8 C781.8,496.5 782.3,498.3 784,499.3 C786.5,501 789.5,502 792.5,502.4 C815,503.4 840,503.9 863.4,504"/>
<path class="b" d="M803.4,473.5 C800,475.5 797.5,478 795.6,481.3 C792.5,487 790,492.5 787.8,498.5 L784,509.4"/>
<!-- window -->
<path class="b" d="M803.4,473.5 C806,471.5 811,470.2 817.5,469.6 C832,469 848,468.9 863.4,469"/>
<path d="M803.8,473.2 C806,471.6 810,470.6 815,470" fill="none" stroke="#222" stroke-width="1.6"/>
<path class="b" d="M803.4,473.5 C801.5,480.5 800,488 798.8,495.4 C798.8,497.5 800,498.8 801.9,499.3 C822,500.2 842,500.5 863.4,500.5"/>
<path class="b" d="M784.7,504.8 H863.4 M766,508.7 H863.4"/>
<!-- mirror -->
<path class="b" d="M736.3,504.8 C737.5,501.5 739.5,499.3 741.7,498.5 C747,497 754,496.2 759,496.2 C761,496.8 762,498.3 762,500 L760.5,511 C759.5,513 757.5,514 755,514 C750,514.2 744,513.9 739.4,513.3 C737.5,512.5 736.3,511 736.3,509.4 Z"/>
<path class="b" d="M738,505.2 C739,502.5 740.5,500.8 742.5,500.2 C747,498.9 753,498.2 757.8,498.2 C759.4,498.6 760.2,499.8 760.2,501.2 L758.8,510.2 C758,511.7 756.5,512.3 754.5,512.3 C750,512.5 744.5,512.2 740.5,511.7 C739,511 738,510 738,508.6 Z"/>
<path class="b" d="M753.4,514 V523.5 L751,528 M756,514 L755.5,521 M760.5,511 L763.6,509.4"/>
<path d="M752,520 C750.8,521.5 750.5,524 751.5,526" fill="none" stroke="#222" stroke-width="1.6"/>
<!-- body side -->
<path class="b" d="M763.6,509.4 C761,513 758.5,516.8 756.5,520.4 C754,528 752.5,537 751.9,545.4 C751,552 751,560 751.6,566 C752,570 752.6,574 753.4,576.9 C754,582 755.2,587.5 756.5,592.5 C757.8,598 759.4,603.5 761.3,608 C763,611.5 765,614 767.5,614.4 C770,614.3 772,612.8 773.8,611.3 L780,608"/>
<path class="b" d="M763.6,514 C763.2,520 762.9,527 762.8,533"/>
<path class="b" d="M763.6,533 C758,538 754,544 751.9,550.3"/>
<path class="b" d="M763.6,530 C761.5,538 760.3,546 760.5,553.4 C761,557.5 762,560.5 763.6,562.8 C767.5,566 772,568 776.9,569 C784,570.6 791,571.7 797.2,572.2"/>
<!-- taillight -->
<path class="b" d="M763.6,515.7 C770,515.2 777,515 784.7,515 C792,516 799,517.4 805,518.8 C811,520 817,521 822.2,522 L827.7,523.5 C826.5,527.5 824.5,531 822.2,533.7 C820,534.8 817.5,535.2 814.4,535.2 C802,534.6 789,533.8 776.9,533 C772,533.2 768,533.8 764.4,534.4"/>
<path class="b" d="M787.8,516.5 C798,518 809,519.6 819,521.2 L822.2,523.5 C820,526.5 817.5,529 814.4,530.5 C806,531.2 796,531.4 787.8,531.3"/>
<path d="M787.8,518.8 C798,520 808,521.3 817.5,522.7" fill="none" stroke="#222" stroke-width="1.6"/>
<path class="b" d="M786.3,509.4 V530 L787.8,550.3 C788.6,555 790.3,558.6 792.5,561.3 C795,563.5 797.5,565.2 800.3,566 C820,566.5 842,566.7 863.4,566.7"/>
<path class="b" d="M827.7,522.7 H863.4"/>
<!-- tailgate crease -->
<path class="b" d="M798.8,538.4 C800.5,541.5 803,544 806.6,545.6 C811,546.7 815,547 819,547.1 L863.4,547.3"/>
<!-- bumper -->
<path class="b" d="M755.8,581.6 C765,580.8 775,579.8 784.7,578.4 C789,577 793.5,575 797.2,573 C801,572 804.5,571.6 808,571.4 L863.4,571"/>
<path class="b" d="M762.8,580.8 L784.7,578.8 L783,581.6 L764.4,584 Z"/>
<path class="b" d="M780,605 C780.5,602 781.5,599.5 783,597.2 C785.5,593.5 789,590.5 792.5,588.6 C796,587 800,586.3 805,586.3 C809,586.4 813,586.7 816,587 L863.4,587.5"/>
<path class="b" d="M780,608 C783,607.6 786.5,607.4 789.4,607.3 M803.5,606 C805.5,605.9 807.6,606 809.7,606.6 C810.6,603.5 812,600.8 814.4,598.8 C817,596.5 820,594.8 823.8,594 L863.4,594"/>
<path class="b" d="M809.7,606.6 C813,605.4 817,604.6 820.6,604.2 L863.4,604"/>
<circle class="b" cx="796.4" cy="603.4" r="7"/>
<circle cx="796.4" cy="603.4" r="5" fill="none" stroke="#555" stroke-width="1.6"/>
<!-- wheel -->
<path class="b" d="M753.4,577 V640 C753.6,644.5 755.5,646.3 759,646.4 H773.5 C777.2,646.3 779,644.5 779.2,640 V611"/>
<path class="b" d="M779.2,620.6 H863.4"/>
</g>
<use href="#rhalf" transform="matrix(-1 0 0 1 1726.8 0)"/>
<!-- center items -->
<path class="b" d="M857.3,452.4 L863.6,445.4 L869.8,452.4 Z M856,454.8 H871 M857.3,452.4 L856,454.8 M869.8,452.4 L871,454.8"/>
<circle cx="863.4" cy="515" r="5.7" fill="#151515"/>
<path d="M863.4,511.2 A3.8,3.8 0 0 1 867.2,515 H863.4 Z M863.4,518.8 A3.8,3.8 0 0 1 859.6,515 H863.4 Z" fill="#fff"/>
<rect class="b" x="844" y="529.4" width="38.5" height="10" rx="4"/>
<path class="b" d="M920.4,586 V580 H927.8 V586 M919,586 H929"/>
</g>

<!--REAR_END-->
</g>
</svg>
</body></html>
